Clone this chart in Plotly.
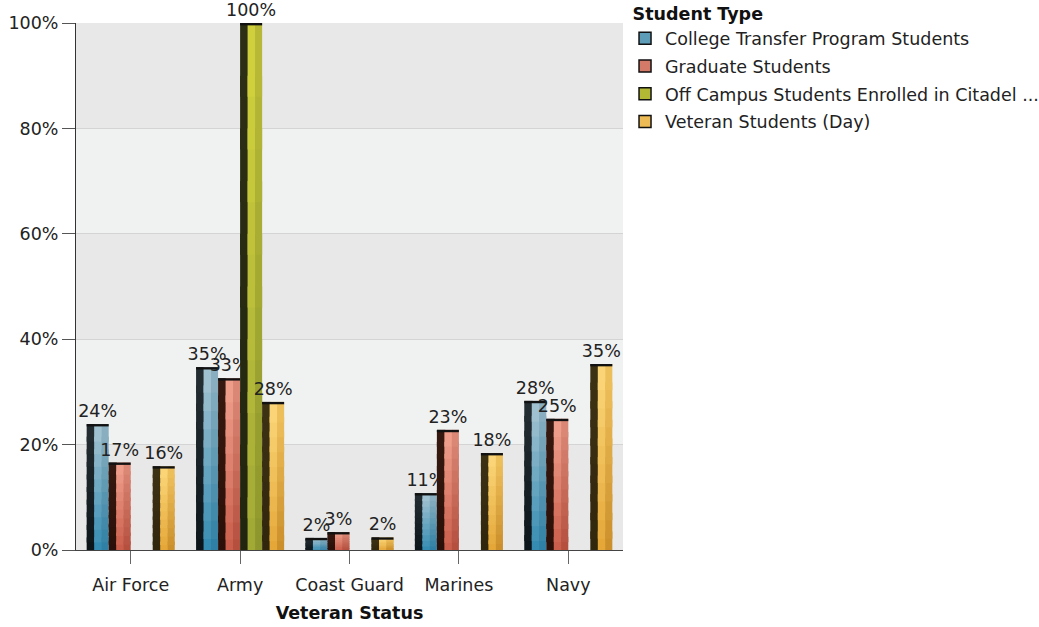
import plotly.graph_objects as go

categories = ["Air Force", "Army", "Coast Guard", "Marines", "Navy"]
series_names = [
    "College Transfer Program Students",
    "Graduate Students",
    "Off Campus Students Enrolled in Citadel ...",
    "Veteran Students (Day)",
]
college_transfer = [23.9, 34.7, 2.3, 10.8, 28.3]
graduate = [16.6, 32.6, 3.4, 22.8, 24.9]
off_campus = [None, 100.0, None, None, None]
veteran_day = [15.9, 28.1, 2.4, 18.4, 35.3]
series_values = [college_transfer, graduate, off_campus, veteran_day]

y_ticks = [0, 20, 40, 60, 80, 100]
y_tick_labels = ["0%", "20%", "40%", "60%", "80%", "100%"]

FONT = "DejaVu Sans"
FS = 17.5

# (top colour, bottom colour) for dark / highlight / main strips, plus legend colour
palettes = [
    {"dark": ("#232d32", "#0b1419"), "hl": ("#a6c4d1", "#2f89b0"), "main": ("#8eb1c1", "#2a7da2"), "legend": "#5d9db8"},
    {"dark": ("#36190f", "#2a0f09"), "hl": ("#f0a08e", "#c85b48"), "main": ("#dc8a78", "#b34c3b"), "legend": "#d47a69"},
    {"dark": ("#2d3016", "#22250e"), "hl": ("#d2d23c", "#9fa836"), "main": ("#b8ba36", "#8c952e"), "legend": "#b2b833"},
    {"dark": ("#3e3214", "#30260c"), "hl": ("#fbd679", "#e3a535"), "main": ("#efc25e", "#c98c28"), "legend": "#ecbb55"},
]
strips = [("dark", 0.0, 0.38), ("hl", 0.38, 0.72), ("main", 0.72, 1.0)]
N_SEG = 10
OVERLAP = 0.4  # fraction of a segment that each segment extends downward, hides seams

n_series = 4
group_width = 0.805
slot = group_width / n_series


def hex_to_rgb(h):
    h = h.lstrip("#")
    return tuple(int(h[i:i + 2], 16) for i in (0, 2, 4))


def mix(c_top, c_bot, t):
    a = hex_to_rgb(c_top)
    b = hex_to_rgb(c_bot)
    return "rgb(%d,%d,%d)" % tuple(round(b[i] + (a[i] - b[i]) * t) for i in range(3))


fig = go.Figure()

for s, (name, vals) in enumerate(zip(series_names, series_values)):
    pal = palettes[s]
    slot_left = -group_width / 2 + s * slot
    for j, (key, f0, f1) in enumerate(strips):
        top_c, bot_c = pal[key]
        left = f0 - (0.04 if j > 0 else 0.0)
        for k in range(N_SEG):
            t = (k + 0.5) / N_SEG
            ext = OVERLAP if k > 0 else 0.0
            fig.add_trace(go.Bar(
                x=categories,
                y=[None if v is None else v * (1 + ext) / N_SEG for v in vals],
                base=[None if v is None else v * (k - ext) / N_SEG for v in vals],
                offset=slot_left + left * slot,
                width=(f1 - left) * slot,
                marker=dict(color=mix(top_c, bot_c, t), line=dict(width=0)),
                showlegend=False,
                legendgroup=name,
                hoverinfo="skip",
            ))
    # top edge line
    fig.add_trace(go.Bar(
        x=categories,
        y=[None if v is None else 0.45 for v in vals],
        base=[None if v is None else v - 0.45 for v in vals],
        offset=slot_left,
        width=slot,
        marker=dict(color="#111111", line=dict(width=0)),
        showlegend=False,
        legendgroup=name,
        hoverinfo="skip",
    ))
    # value labels
    fig.add_trace(go.Bar(
        x=categories,
        y=vals,
        offset=slot_left,
        width=slot,
        marker=dict(color="rgba(0,0,0,0)", line=dict(width=0)),
        text=[None if v is None else "%d%%" % round(v) for v in vals],
        textposition="outside",
        constraintext="none",
        cliponaxis=False,
        textfont=dict(size=FS, color="#222222", family=FONT),
        showlegend=False,
        legendgroup=name,
        hoverinfo="skip",
    ))
    # legend entry
    fig.add_trace(go.Bar(
        x=[categories[0]],
        y=[None],
        name=name,
        legendgroup=name,
        marker=dict(color=pal["legend"], line=dict(color="#111111", width=1.5)),
        hoverinfo="skip",
    ))

shapes = []
band_colors = ["#e8e8e8", "#f0f1f1", "#e8e8e8", "#f0f1f1", "#e8e8e8"]
for i, c in enumerate(band_colors):
    shapes.append(dict(type="rect", xref="paper", yref="y", x0=0, x1=1,
                       y0=y_ticks[i], y1=y_ticks[i + 1], fillcolor=c,
                       line=dict(width=0), layer="below"))

fig.update_layout(
    width=1039, height=627,
    margin=dict(l=76, r=416, t=23, b=77, autoexpand=False),
    paper_bgcolor="white",
    plot_bgcolor="#ececec",
    barmode="overlay",
    font=dict(family=FONT, size=FS, color="#222222"),
    shapes=shapes,
    showlegend=True,
    legend=dict(
        x=1.0037, xanchor="left", xref="paper",
        y=1.048, yanchor="top",
        traceorder="grouped",
        tracegroupgap=2,
        title=dict(text="\u00a0<b>Student Type</b>", font=dict(size=FS, color="#111111")),
        font=dict(size=FS, color="#222222"),
        bgcolor="rgba(0,0,0,0)",
    ),
    xaxis=dict(
        type="category",
        categoryorder="array", categoryarray=categories,
        range=[-0.5, 4.5],
        showline=True, linecolor="#444444", linewidth=1,
        ticks="outside", ticklen=13, tickcolor="#666666",
        ticklabelstandoff=6,
        showgrid=False,
        tickfont=dict(size=FS, color="#222222"),
        title=dict(text="<b>Veteran Status</b>", font=dict(size=FS, color="#111111"), standoff=12),
    ),
    yaxis=dict(
        range=[0, 100],
        tickvals=y_ticks, ticktext=y_tick_labels,
        showline=True, linecolor="#333333", linewidth=1,
        ticks="outside", ticklen=13, tickcolor="#555555",
        showgrid=True, gridcolor="#d4d4d4", gridwidth=1,
        zeroline=False,
        tickfont=dict(size=FS, color="#222222"),
    ),
)

fig.write_html("out.html", config={"displayModeBar": False},
               post_script="document.body.style.margin='0';")
